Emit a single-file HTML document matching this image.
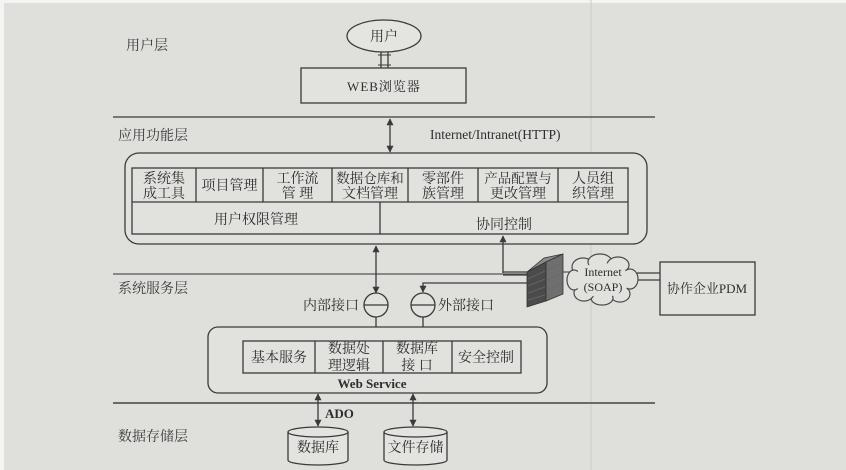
<!DOCTYPE html>
<html><head><meta charset="utf-8">
<style>
html,body{margin:0;padding:0;background:#dfdfdc;}
svg{display:block;}
text{font-family:"Liberation Serif","Noto Serif CJK SC",serif;fill:#2e2e2e;}
.cn{font-size:14px;}
.lab{font-size:14px;font-family:"Liberation Serif","Noto Serif CJK SC",serif;fill:#3a3a3a;}
</style></head>
<body>
<svg width="846" height="470" viewBox="0 0 846 470" xmlns="http://www.w3.org/2000/svg">
<defs>
<marker id="ah" viewBox="0 0 10 10" refX="9" refY="5" markerWidth="7" markerHeight="7" orient="auto-start-reverse" markerUnits="userSpaceOnUse">
<path d="M0,0 L10,5 L0,10 z" fill="#3a3a3a"/>
</marker>
</defs>
<rect x="0" y="0" width="846" height="470" fill="#dfdfdc"/>
<rect x="0" y="0" width="846" height="3" fill="#f4f4f2"/>
<rect x="0" y="0" width="4" height="470" fill="#f4f4f2"/>
<line x1="591" y1="0" x2="591" y2="470" stroke="#cbcbc8" stroke-width="1"/>

<g stroke="#3a3a3a" fill="none" stroke-width="1.3">
<line x1="113" y1="117" x2="655" y2="117" stroke="#555" stroke-width="1.5"/>
<line x1="113" y1="274" x2="527" y2="274" stroke="#555" stroke-width="1.3"/>
<line x1="113" y1="403" x2="655" y2="403" stroke="#444" stroke-width="1.6"/>

<ellipse cx="384" cy="36" rx="37" ry="16" fill="#e4e4e1"/>
<line x1="381" y1="52" x2="381" y2="68"/>
<line x1="388" y1="52" x2="388" y2="68"/>
<line x1="378" y1="55" x2="391" y2="55" stroke-width="1"/>
<line x1="378" y1="65" x2="391" y2="65" stroke-width="1"/>
<rect x="301" y="68" width="165" height="35" fill="#e2e2df"/>

<line x1="390" y1="119" x2="390" y2="152" marker-start="url(#ah)" marker-end="url(#ah)"/>

<rect x="125" y="153" width="522" height="91" rx="14" fill="#e1e1de"/>
<rect x="132" y="168" width="496" height="66"/>
<line x1="132" y1="202" x2="628" y2="202"/>
<line x1="196" y1="168" x2="196" y2="202"/>
<line x1="263" y1="168" x2="263" y2="202"/>
<line x1="332" y1="168" x2="332" y2="202"/>
<line x1="408" y1="168" x2="408" y2="202"/>
<line x1="478" y1="168" x2="478" y2="202"/>
<line x1="558" y1="168" x2="558" y2="202"/>
<line x1="380" y1="202" x2="380" y2="234"/>

<line x1="376" y1="246" x2="376" y2="293" marker-start="url(#ah)" marker-end="url(#ah)"/>
<line x1="503" y1="273" x2="503" y2="236" marker-end="url(#ah)"/>
<line x1="503" y1="272" x2="527" y2="272"/>
<line x1="503" y1="275" x2="527" y2="275"/>
<polyline points="527,283 423,283 423,292" marker-end="url(#ah)"/>

<circle cx="376" cy="305" r="12" fill="#e1e1de"/>
<line x1="364" y1="305" x2="388" y2="305"/>
<circle cx="423" cy="305" r="12" fill="#e1e1de"/>
<line x1="411" y1="305" x2="435" y2="305"/>
<line x1="376" y1="317" x2="376" y2="327"/>
<line x1="423" y1="317" x2="423" y2="327"/>

<rect x="208" y="327" width="339" height="66" rx="10" fill="#e1e1de"/>
<rect x="243" y="341" width="278" height="32"/>
<line x1="315" y1="341" x2="315" y2="373"/>
<line x1="383" y1="341" x2="383" y2="373"/>
<line x1="452" y1="341" x2="452" y2="373"/>

<line x1="318" y1="394" x2="318" y2="426" marker-start="url(#ah)" marker-end="url(#ah)"/>
<line x1="413" y1="394" x2="413" y2="426" marker-start="url(#ah)" marker-end="url(#ah)"/>

<path d="M288,432 L288,460 A30,5 0 0 0 348,460 L348,432" fill="#e3e3e0"/>
<ellipse cx="318" cy="432" rx="30" ry="5" fill="#e3e3e0"/>
<path d="M384,432 L384,460 A31.5,5 0 0 0 447,460 L447,432" fill="#e3e3e0"/>
<ellipse cx="415.5" cy="432" rx="31.5" ry="5" fill="#e3e3e0"/>

<rect x="660" y="262" width="95" height="53" fill="#e1e1de"/>
<line x1="637" y1="273" x2="660" y2="273"/>
<line x1="637" y1="280" x2="660" y2="280"/>
<line x1="563" y1="272" x2="570" y2="272" stroke-width="1"/>
</g>

<g stroke="#4a4a4a" stroke-width="1.2" fill="#e1e1de">
<ellipse cx="583" cy="267" rx="11" ry="9"/>
<ellipse cx="600" cy="262" rx="12" ry="8"/>
<ellipse cx="618" cy="265" rx="11" ry="8"/>
<ellipse cx="630" cy="279" rx="8" ry="10"/>
<ellipse cx="620" cy="294" rx="10" ry="8"/>
<ellipse cx="602" cy="298" rx="11" ry="7"/>
<ellipse cx="584" cy="293" rx="10" ry="8"/>
<ellipse cx="574" cy="280" rx="7" ry="10"/>
</g>
<ellipse cx="602" cy="280" rx="28" ry="17" fill="#e1e1de"/>

<polygon points="527,272 544,258 563,254 546,262" fill="#8a8a8a" stroke="#333" stroke-width="0.8"/>
<polygon points="527,272 546,262 546,301 527,307" fill="#4b4b4b" stroke="#333" stroke-width="0.8"/>
<polygon points="546,262 563,254 563,294 546,301" fill="#6f6f6f" stroke="#333" stroke-width="0.8"/>
<g stroke="#6a6a6a" stroke-width="0.7">
<line x1="528" y1="279" x2="545" y2="271"/>
<line x1="528" y1="286" x2="545" y2="279"/>
<line x1="528" y1="293" x2="545" y2="287"/>
<line x1="528" y1="300" x2="545" y2="295"/>
<line x1="547" y1="270" x2="562" y2="263"/>
<line x1="547" y1="280" x2="562" y2="273"/>
<line x1="547" y1="290" x2="562" y2="283"/>
</g>

<text class="lab" x="126" y="50">用户层</text>
<text class="lab" x="118" y="140">应用功能层</text>
<text class="lab" x="118" y="293">系统服务层</text>
<text class="lab" x="118" y="441">数据存储层</text>

<text class="cn" x="384" y="41" text-anchor="middle" font-size="13">用户</text>
<text x="384" y="91" text-anchor="middle" font-size="13" letter-spacing="1">WEB浏览器</text>
<text x="430" y="139" font-size="13.5" fill="#333">Internet/Intranet(HTTP)</text>

<g class="cn" text-anchor="middle">
<text x="164" y="183">系统集</text><text x="164" y="198">成工具</text>
<text x="229.5" y="190">项目管理</text>
<text x="297.5" y="183">工作流</text><text x="297.5" y="198">管 理</text>
<text x="370" y="183" font-size="13.5">数据仓库和</text><text x="370" y="198">文档管理</text>
<text x="443" y="183">零部件</text><text x="443" y="198">族管理</text>
<text x="518" y="183" font-size="13.5">产品配置与</text><text x="518" y="198">更改管理</text>
<text x="593" y="183">人员组</text><text x="593" y="198">织管理</text>
<text x="256" y="224">用户权限管理</text>
<text x="504" y="229">协同控制</text>

<text x="279" y="362">基本服务</text>
<text x="349" y="353">数据处</text><text x="349" y="370">理逻辑</text>
<text x="417" y="353">数据库</text><text x="417" y="370">接 口</text>
<text x="486" y="362">安全控制</text>
</g>
<text x="372" y="388" text-anchor="middle" font-size="13" font-weight="bold" fill="#333">Web Service</text>

<text class="cn" x="359" y="310" text-anchor="end">内部接口</text>
<text class="cn" x="438" y="310">外部接口</text>

<text x="603" y="276" text-anchor="middle" font-size="12">Internet</text>
<text x="603" y="291" text-anchor="middle" font-size="12">(SOAP)</text>
<text x="707" y="293" text-anchor="middle" font-size="13">协作企业PDM</text>

<text x="325" y="418" font-size="13" font-weight="bold" fill="#333">ADO</text>
<text class="cn" x="318" y="452" text-anchor="middle">数据库</text>
<text class="cn" x="415.5" y="452" text-anchor="middle">文件存储</text>
</svg>
</body></html>
